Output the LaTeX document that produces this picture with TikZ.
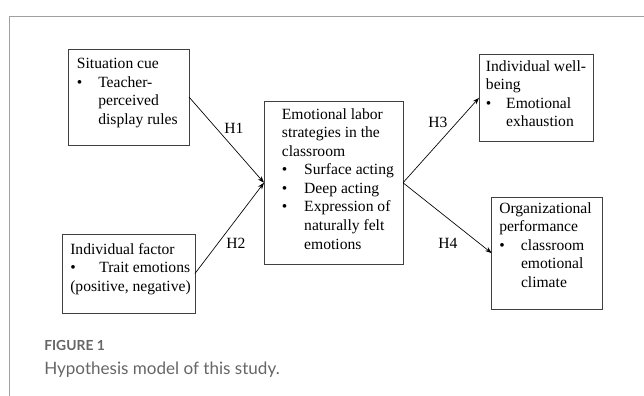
\documentclass[tikz,border=0pt]{standalone}
\usepackage{fontspec}
\setmainfont{Liberation Serif}
\newfontfamily\capfont{Lato}
\usetikzlibrary{arrows.meta}
\definecolor{capgray}{HTML}{666666}
\definecolor{framegray}{HTML}{A0A0A0}
\definecolor{boxline}{HTML}{404040}
\newcommand{\bul}[1]{\makebox[#1][l]{\textbullet}}
\newcommand{\ind}[1]{\hspace*{#1}}
\newcommand{\txtlines}[1]{\begin{tabular}[t]{@{}l@{}}#1\end{tabular}}
\begin{document}
\begin{tikzpicture}[x=0.75pt,y=-0.75pt,
  box/.style={draw=boxline,line width=0.6pt,inner sep=0,outer sep=0,rectangle},
  txt/.style={anchor=base west,inner sep=0,font=\fontsize{11.7}{13.9}\selectfont},
  arr/.style={-{Stealth[length=5pt,width=3.6pt]},line width=0.5pt,black},
  hl/.style={font=\fontsize{11.7}{13.9}\selectfont,inner sep=0}]
\useasboundingbox (0,0) rectangle (644,396);
\draw[framegray,line width=0.75pt] (644,16) -- (9,16) -- (9,396);

% boxes
\node[box,minimum width=121*0.75pt,minimum height=96*0.75pt] (sc) at (128.5,97) {};
\node[box,minimum width=133*0.75pt,minimum height=79*0.75pt] (if) at (128.5,273.5) {};
\node[box,minimum width=139*0.75pt,minimum height=163.5*0.75pt] (cb) at (333.5,182.75) {};
\node[box,minimum width=114*0.75pt,minimum height=87.7*0.75pt] (wb) at (536,97.85) {};
\node[box,minimum width=110.6*0.75pt,minimum height=111.7*0.75pt] (op) at (547,253.15) {};

% texts
\node[txt] (sct) at (76.7,68.6) {\txtlines{Situation cue\\\bul{16pt}Teacher-\\\ind{16pt}perceived\\\ind{16pt}display rules}};
\node[txt] (ift) at (70,254.3) {\txtlines{Individual factor\\\bul{21.75pt}Trait emotions\\(positive, negative)}};
\node[txt] (cbt) at (281.7,119.3) {\txtlines{Emotional labor\\strategies in the\\classroom\\\bul{16.7pt}Surface acting\\\bul{16.7pt}Deep acting\\\bul{16.7pt}Expression of\\\ind{16.7pt}naturally felt\\\ind{16.7pt}emotions}};
\node[txt] (wbt) at (485.7,71) {\txtlines{Individual well-\\being\\\bul{15.2pt}Emotional\\\ind{15.2pt}exhaustion}};
\node[txt] (opt) at (499,213.3) {\txtlines{Organizational\\performance\\\bul{16.3pt}classroom\\\ind{16.3pt}emotional\\\ind{16.3pt}climate}};

% connectors
\draw[arr] (sc.east) -- (cb.west);
\draw[arr] (if.east) -- (cb.west);
\draw[arr] (cb.east) -- (wb.west);
\draw[arr] (cb.east) -- (op.west);

% labels
\node[hl] (h1) at (234,128) {H1};
\node[hl] (h2) at (236,243) {H2};
\node[hl] (h3) at (438,122) {H3};
\node[hl] (h4) at (448,243) {H4};

% caption
\node[anchor=base west,inner sep=0,text=capgray,font=\capfont\bfseries\fontsize{10.4}{12}\selectfont] (fig) at (44,350.7) {FIGURE 1};
\node[anchor=base west,inner sep=0,text=capgray,font=\capfont\fontsize{12.8}{15}\selectfont] (cap) at (44,374) {Hypothesis model of this study.};
\end{tikzpicture}
\end{document}
